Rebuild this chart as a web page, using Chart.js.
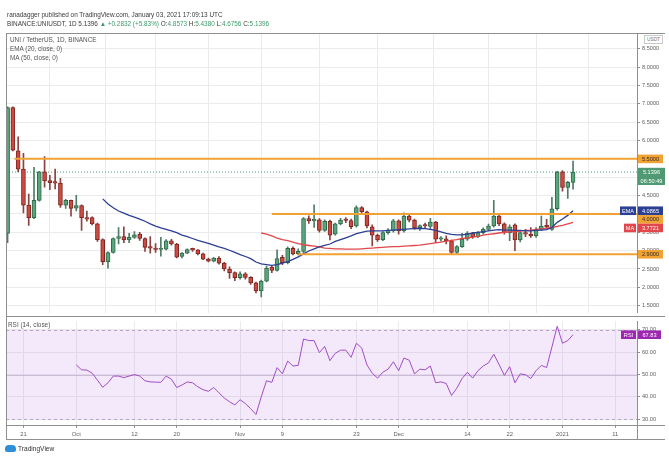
<!DOCTYPE html>
<html>
<head>
<meta charset="utf-8">
<script src="https://cdn.jsdelivr.net/npm/chart.js@4.4.0/dist/chart.umd.min.js"></script>
<style>
html,body{margin:0;padding:0;background:#fff;}
body{width:669px;height:456px;position:relative;overflow:hidden;font-family:"Liberation Sans",Arial,sans-serif;}
canvas{position:absolute;left:0;}
.t{position:absolute;white-space:nowrap;color:#3a3a3a;font-size:6.4px;line-height:1;}
.g{color:#3d9a6c;}
.ln{position:absolute;background:#8f8f8f;}
.usdt{position:absolute;left:644px;top:35px;width:17px;height:7px;border:1px solid #c9c9c9;font-size:4.8px;line-height:7px;text-align:center;color:#777;background:#fff;}
.logo{position:absolute;left:5px;top:445px;width:11px;height:7px;background:#2d8fd6;border-radius:4px 4px 2px 2px;}
</style>
</head>
<body>
<canvas id="c1" width="669" height="318" style="top:0;width:669px;height:318px"></canvas>
<canvas id="c2" width="669" height="124" style="top:316px;width:669px;height:124px"></canvas>

<div class="ln" style="left:6px;top:33px;width:1px;height:406px"></div>
<div class="ln" style="left:6px;top:33px;width:659px;height:1px"></div>
<div class="ln" style="left:6px;top:316px;width:659px;height:1px"></div>
<div class="ln" style="left:6px;top:425px;width:659px;height:1px"></div>
<div class="ln" style="left:6px;top:439px;width:659px;height:1px"></div>
<div class="ln" style="left:637px;top:425px;width:1px;height:14px"></div>

<div class="t" style="left:7px;top:12px;">ranadagger published on TradingView.com, January 03, 2021 17:09:13 UTC</div>
<div class="t" style="left:7px;top:20.5px;">BINANCE:UNIUSDT, 1D 5.1396 <span class="g">▲ +0.2832 (+5.83%)</span> O:<span class="g">4.8573</span> H:<span class="g">5.4380</span> L:<span class="g">4.6756</span> C:<span class="g">5.1396</span></div>
<div class="t" style="left:10px;top:37px;color:#555">UNI / TetherUS, 1D, BINANCE</div>
<div class="t" style="left:10px;top:46px;color:#555">EMA (20, close, 0)</div>
<div class="t" style="left:10px;top:55px;color:#555">MA (50, close, 0)</div>
<div class="t" style="left:8px;top:322px;color:#555">RSI (14, close)</div>
<div class="usdt">USDT</div>
<div class="logo"></div>
<div class="t" style="left:18px;top:446px;font-size:6.6px;color:#333">TradingView</div>

<script>
// ---- data (day index 0 = 2020-09-18, daily candles) ----
const OPEN  = [3.47,6.90,5.72,5.22,4.24,3.90,4.37,5.15,4.91,4.86,4.84,4.24,4.37,4.16,4.23,3.88,3.90,3.73,3.30,2.70,
               2.95,3.33,3.38,3.29,3.36,3.45,3.33,3.11,3.07,3.03,3.04,3.27,3.18,2.84,2.93,3.03,3.02,2.91,2.77,2.71,
               2.80,2.66,2.50,2.40,2.26,2.37,2.27,2.12,1.90,2.17,2.55,2.46,2.82,2.67,3.06,2.92,2.98,3.87,3.81,3.84,
               3.55,3.80,3.45,3.73,3.83,3.82,3.67,4.17,4.06,3.65,3.42,3.30,3.49,3.54,3.81,3.54,3.94,3.83,3.62,3.68,
               3.66,3.78,3.31,3.32,3.27,2.95,3.11,3.31,3.47,3.38,3.49,3.58,3.67,3.94,3.73,3.49,3.70,3.29,3.49,3.45,
               3.40,3.58,3.67,3.58,4.14,5.15,4.72,4.8573];
const HIGH  = [6.92,6.92,6.10,5.65,4.54,5.27,5.16,5.56,5.05,5.22,4.97,4.40,4.38,4.51,4.25,4.08,3.92,3.75,3.32,2.97,
               3.35,3.63,3.65,3.47,3.52,3.50,3.35,3.38,3.19,3.36,3.30,3.31,3.20,2.95,3.05,3.07,3.03,2.93,2.80,2.82,
               2.84,2.68,2.56,2.42,2.42,2.40,2.29,2.14,2.20,2.58,2.58,3.02,2.87,3.10,3.10,3.05,3.90,3.95,4.25,3.87,
               3.84,3.83,3.75,3.88,3.90,3.86,4.22,4.20,4.08,3.70,3.45,3.52,3.60,3.85,3.84,4.03,4.00,3.86,3.70,3.75,
               3.88,3.80,3.38,3.40,3.29,3.14,3.47,3.52,3.50,3.52,3.62,3.72,4.37,3.96,3.76,3.70,3.73,3.52,3.58,3.63,
               3.63,3.94,3.85,4.45,5.16,5.18,4.89,5.4380];
const LOW   = [3.22,5.72,5.15,4.03,3.69,3.87,4.35,4.73,4.66,4.68,4.18,4.15,3.94,4.08,3.55,3.80,3.70,3.25,2.62,2.52,
               2.93,3.18,3.22,3.22,3.33,3.28,2.98,2.93,2.95,2.85,3.02,3.15,2.80,2.80,2.92,2.98,2.88,2.75,2.69,2.69,
               2.63,2.45,2.24,2.18,2.22,2.22,2.08,1.85,1.74,2.15,2.40,2.44,2.62,2.64,2.88,2.88,2.93,3.74,3.63,3.50,
               3.52,3.29,3.42,3.70,3.76,3.60,3.64,4.00,3.62,3.13,3.25,3.27,3.45,3.50,3.45,3.50,3.78,3.58,3.55,3.62,
               3.60,3.22,3.26,3.18,2.90,2.92,3.09,3.28,3.33,3.35,3.45,3.55,3.64,3.68,3.45,3.27,3.00,3.24,3.38,3.36,
               3.36,3.55,3.60,3.55,4.10,4.62,4.42,4.6756];
const CLOSE = [6.90,5.74,5.22,4.24,3.90,4.37,5.15,4.90,4.85,4.84,4.24,4.37,4.15,4.23,3.90,3.86,3.73,3.30,2.70,2.95,
               3.33,3.38,3.29,3.36,3.43,3.33,3.09,3.07,3.03,3.04,3.27,3.18,2.82,2.93,3.03,3.02,2.91,2.77,2.71,2.80,
               2.66,2.50,2.40,2.26,2.37,2.27,2.12,1.90,2.17,2.52,2.46,2.78,2.67,3.06,2.91,2.98,3.87,3.81,3.84,3.55,
               3.80,3.42,3.73,3.83,3.82,3.65,4.17,4.06,3.67,3.42,3.29,3.49,3.56,3.81,3.54,3.94,3.83,3.62,3.68,3.67,
               3.78,3.31,3.32,3.27,2.95,3.11,3.31,3.47,3.38,3.49,3.58,3.67,3.94,3.73,3.49,3.65,3.29,3.49,3.45,3.40,
               3.58,3.67,3.65,4.14,5.15,4.72,4.86,5.1396];

const EMA_START = 18;
const EMA20 = [4.41,4.27,4.17,4.08,4.02,3.96,3.91,3.86,3.80,3.73,
               3.67,3.62,3.58,3.54,3.49,3.42,3.38,3.33,3.28,3.24,
               3.20,3.15,3.10,3.06,3.01,2.95,2.89,2.84,2.78,2.69,
               2.64,2.62,2.60,2.62,2.66,2.70,2.76,2.83,2.91,2.99,
               3.05,3.10,3.14,3.18,3.25,3.30,3.35,3.40,3.46,3.50,
               3.53,3.54,3.54,3.54,3.55,3.56,3.57,3.58,3.59,3.60,
               3.61,3.60,3.58,3.55,3.51,3.47,3.44,3.43,3.43,3.45,
               3.48,3.50,3.52,3.54,3.56,3.57,3.56,3.56,3.55,3.55,
               3.54,3.54,3.55,3.56,3.57,3.63,3.77,3.86,3.96,4.0865];

const MA_START = 48;
const MA50 = [3.48,3.45,3.40,3.34,3.30,3.27,3.23,3.19,3.16,3.14,
              3.12,3.10,3.07,3.06,3.05,3.05,3.04,3.04,3.04,3.05,
              3.06,3.07,3.08,3.09,3.10,3.11,3.11,3.12,3.13,3.14,
              3.15,3.17,3.19,3.21,3.23,3.26,3.28,3.30,3.33,3.35,
              3.37,3.39,3.42,3.44,3.46,3.48,3.50,3.51,3.52,3.53,
              3.55,3.56,3.58,3.59,3.61,3.63,3.66,3.69,3.73,3.7721];

const RSI_START = 13;
const RSI14 = [54.3,52.1,52.0,50.6,47.5,44.3,46.3,49.3,49.3,48.6,
               49.3,50.0,49.3,47.2,46.7,46.6,46.5,49.3,47.9,44.2,
               45.3,46.7,46.3,44.5,43.2,42.5,44.2,41.8,39.5,37.8,
               36.4,38.7,37.0,34.7,32.1,40.0,47.2,46.5,53.1,50.3,
               56.0,53.8,54.1,65.9,65.2,65.2,59.8,62.6,56.2,59.5,
               60.9,60.9,57.7,64.0,61.9,54.3,50.6,48.4,51.0,52.4,
               55.7,51.7,57.4,56.4,50.3,52.4,52.1,53.8,46.3,46.7,
               46.0,40.6,43.9,48.2,51.0,48.4,51.7,53.8,55.2,59.1,
               54.5,49.6,53.5,46.3,50.3,49.9,48.2,51.7,54.1,53.1,
               62.3,71.6,64.0,65.2,67.83];

const LEVEL_PRICES = [5.5, 4.0, 2.9];
const LEVEL_FROM   = [1.3, 50, 55];   // day index where each drawn level begins

const X_TICKS  = [3, 13, 24, 32, 44, 52, 66, 74, 87, 95, 105, 115];
const X_LABELS = ['21','Oct','12','20','Nov','9','23','Dec','14','22','2021','11'];
const PRICE_TICKS = [1.5,2,2.5,3,3.5,4,4.5,5,5.5,6,6.5,7,7.5,8,8.5];
const RSI_TICKS = [30,40,50,60,70];
const COUNTDOWN = '06:50:49';

// ---- styling ----
const X_MIN = -0.3, X_MAX = 119.1;
const GRID = '#ebebeb';
const AXIS = '#8f8f8f';
const UP_FILL = '#5aa67c', UP_LINE = '#2f6a4b';
const DN_FILL = '#cc4a40', DN_LINE = '#7d2621';
const ORANGE = '#f2a233';
const EMA_C = '#2b3f94', MA_C = '#e2474c', RSI_C = '#a04cc4', PRICE_C = '#4f9a72';
Chart.defaults.font.family = '"Liberation Sans", Arial, sans-serif';

const N = CLOSE.length;
const isUp = i => CLOSE[i] >= OPEN[i];
const bodies = CLOSE.map((c, i) => ({x: i, y: [OPEN[i], c]}));
const wicks  = CLOSE.map((c, i) => ({x: i, y: [LOW[i], HIGH[i]]}));
const emaPts = EMA20.map((v, k) => ({x: EMA_START + k, y: v}));
const maPts  = MA50.map((v, k) => ({x: MA_START + k, y: v}));
const rsiPts = RSI14.map((v, k) => ({x: RSI_START + k, y: v}));
const lastClose = CLOSE[N - 1];

function box(ctx, x, y, w, h, bg, lines, fg) {
  ctx.fillStyle = bg;
  ctx.fillRect(x, y, w, h);
  ctx.fillStyle = fg;
  ctx.font = '5.6px "Liberation Sans", Arial, sans-serif';
  ctx.textAlign = 'center';
  ctx.textBaseline = 'middle';
  const lh = h / lines.length;
  lines.forEach((s, k) => ctx.fillText(s, x + w / 2, y + lh * (k + 0.5) + 0.3));
}

const priceBoxes = {
  id: 'priceBoxes',
  afterDraw(chart) {
    const ctx = chart.ctx, ys = chart.scales.y, R = chart.chartArea.right;
    const items = [
      {v: LEVEL_PRICES[0], bg: ORANGE, fg: '#2b2b2b', t: [LEVEL_PRICES[0].toFixed(4)]},
      {v: lastClose, bg: PRICE_C, fg: '#fff', t: [lastClose.toFixed(4), COUNTDOWN], w: 27},
      {v: EMA20[EMA20.length - 1], bg: EMA_C, fg: '#fff', t: [EMA20[EMA20.length - 1].toFixed(4)], tag: 'EMA'},
      {v: LEVEL_PRICES[1], bg: ORANGE, fg: '#2b2b2b', t: [LEVEL_PRICES[1].toFixed(4)]},
      {v: MA50[MA50.length - 1], bg: MA_C, fg: '#fff', t: [MA50[MA50.length - 1].toFixed(4)], tag: 'MA'},
      {v: LEVEL_PRICES[2], bg: ORANGE, fg: '#2b2b2b', t: [LEVEL_PRICES[2].toFixed(4)]},
    ];
    items.forEach(it => it.y = ys.getPixelForValue(it.v));
    items.sort((a, b) => a.y - b.y);
    let prevBottom = -1e9;
    const H = 8.6;
    items.forEach(it => {
      let top = it.y - H / 2;
      if (top < prevBottom) top = prevBottom;
      const h = H * it.t.length;
      box(ctx, R + 1, top, it.w || 25, h, it.bg, it.t, it.fg);
      if (it.tag) {
        const tw = it.tag.length * 4 + 4;
        box(ctx, R - tw - 1, top, tw, H, it.bg, [it.tag], it.fg);
      }
      prevBottom = top + (it.t.length > 1 ? H : H);
    });
  }
};

const rsiDecor = {
  id: 'rsiDecor',
  beforeDatasetsDraw(chart) {
    const ctx = chart.ctx, ys = chart.scales.y, a = chart.chartArea;
    const y70 = ys.getPixelForValue(70), y30 = ys.getPixelForValue(30), y50 = ys.getPixelForValue(50);
    ctx.save();
    ctx.fillStyle = 'rgba(181, 120, 230, 0.16)';
    ctx.fillRect(a.left, y70, a.right - a.left, y30 - y70);
    ctx.strokeStyle = '#b9a3c6';
    ctx.lineWidth = 1;
    ctx.setLineDash([3, 3]);
    [y70, y30].forEach(y => { ctx.beginPath(); ctx.moveTo(a.left, Math.round(y) + 0.5); ctx.lineTo(a.right, Math.round(y) + 0.5); ctx.stroke(); });
    ctx.setLineDash([]);
    ctx.strokeStyle = 'rgba(170, 150, 185, 0.55)';
    ctx.beginPath(); ctx.moveTo(a.left, Math.round(y50) + 0.5); ctx.lineTo(a.right, Math.round(y50) + 0.5); ctx.stroke();
    ctx.restore();
  },
  afterDraw(chart) {
    const ctx = chart.ctx, ys = chart.scales.y, R = chart.chartArea.right;
    const v = RSI14[RSI14.length - 1];
    const y = ys.getPixelForValue(v) - 4.3;
    box(ctx, R + 1, y, 23, 8.6, '#9c27b0', [v.toFixed(2)], '#fff');
    box(ctx, R - 16, y, 15, 8.6, '#9c27b0', ['RSI'], '#fff');
  }
};

const xTicksFn = s => { s.ticks = X_TICKS.map(v => ({value: v})); };

new Chart(document.getElementById('c1'), {
  type: 'bar',
  data: {
    datasets: [
      ...LEVEL_PRICES.map((p, k) => ({
        type: 'line', data: [{x: LEVEL_FROM[k], y: p}, {x: X_MAX, y: p}],
        borderColor: ORANGE, borderWidth: 2, pointRadius: 0, order: 0
      })),
      {type: 'line', data: [{x: X_MIN, y: lastClose}, {x: X_MAX, y: lastClose}],
       borderColor: PRICE_C, borderWidth: 1, borderDash: [1, 2], pointRadius: 0, order: 5},
      {type: 'line', data: emaPts, borderColor: EMA_C, borderWidth: 1.3, pointRadius: 0, order: 1},
      {type: 'line', data: maPts, borderColor: MA_C, borderWidth: 1.3, pointRadius: 0, order: 1},
      {type: 'bar', data: bodies, grouped: false, barThickness: 4, minBarLength: 1.5,
       backgroundColor: c => isUp(c.dataIndex) ? UP_FILL : DN_FILL,
       borderColor: c => isUp(c.dataIndex) ? UP_LINE : DN_LINE,
       borderWidth: 1, borderSkipped: false, order: 3},
      {type: 'bar', data: wicks, grouped: false, barThickness: 1,
       backgroundColor: c => isUp(c.dataIndex) ? '#4f7d65' : '#8b4340', order: 4}
    ]
  },
  options: {
    responsive: false, animation: false, devicePixelRatio: 1,
    layout: {padding: {left: 6, top: 33, right: 0, bottom: 0}},
    plugins: {legend: {display: false}, tooltip: {enabled: false}},
    scales: {
      x: {type: 'linear', min: X_MIN, max: X_MAX, offset: false,
          afterBuildTicks: xTicksFn, afterFit: s => { s.height = 2; },
          ticks: {display: false}, grid: {color: GRID, drawTicks: false}, border: {display: false}},
      y: {position: 'right', min: 1.31, max: 8.93,
          afterBuildTicks: s => { s.ticks = PRICE_TICKS.map(v => ({value: v})); },
          afterFit: s => { s.width = 32; },
          ticks: {callback: v => Number(v).toFixed(4), color: '#616161', font: {size: 5.6}, padding: 2},
          grid: {color: GRID, tickLength: 3, tickColor: '#8f8f8f'},
          border: {display: true, color: AXIS}}
    }
  },
  plugins: [priceBoxes]
});

new Chart(document.getElementById('c2'), {
  type: 'line',
  data: {datasets: [{data: rsiPts, borderColor: RSI_C, borderWidth: 1, pointRadius: 0}]},
  options: {
    responsive: false, animation: false, devicePixelRatio: 1,
    layout: {padding: {left: 6, top: 1, right: 0, bottom: 0}},
    plugins: {legend: {display: false}, tooltip: {enabled: false}},
    scales: {
      x: {type: 'linear', min: X_MIN, max: X_MAX, offset: false,
          afterBuildTicks: xTicksFn, afterFit: s => { s.height = 15; },
          ticks: {callback: (v, i) => X_LABELS[i], autoSkip: false, maxRotation: 0, color: '#616161', font: {size: 5.8}, padding: 3},
          grid: {color: GRID, tickLength: 3, tickColor: '#8f8f8f'}, border: {display: false}},
      y: {position: 'right', min: 27.4, max: 73.8,
          afterBuildTicks: s => { s.ticks = RSI_TICKS.map(v => ({value: v})); },
          afterFit: s => { s.width = 32; },
          ticks: {callback: v => Number(v).toFixed(2), color: '#616161', font: {size: 5.6}, padding: 2},
          grid: {color: GRID, tickLength: 3, tickColor: '#8f8f8f'},
          border: {display: true, color: AXIS}}
    }
  },
  plugins: [rsiDecor]
});
</script>
</body>
</html>
